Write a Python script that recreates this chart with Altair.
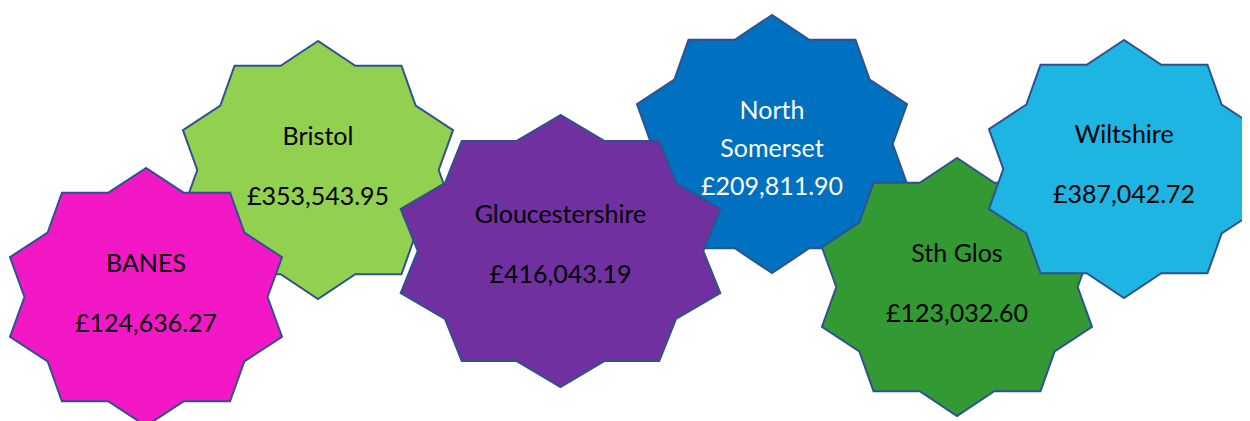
import math
import altair as alt
import pandas as pd

# ---- data ----
names = ["Bristol", "BANES", "North Somerset", "Gloucestershire", "Sth Glos", "Wiltshire"]
amounts = [353543.95, 124636.27, 209811.90, 416043.19, 123032.60, 387042.72]
fills = ["#92D050", "#F218C5", "#0070C0", "#7030A0", "#339933", "#1FB5E2"]
text_colors = ["black", "black", "white", "black", "black", "black"]
label_lines = [["Bristol"], ["BANES"], ["North", "Somerset"], ["Gloucestershire"], ["Sth Glos"], ["Wiltshire"]]

# ---- layout (reference pixel space) ----
center_x = [318, 146, 772, 560.5, 957, 1124]
center_y = [170, 297, 144, 251, 287, 169]
radius_x = [142, 143, 142, 168, 142, 142]
radius_y = [129, 129, 129, 136, 129, 129]
text_shift = [0, 0, 0, -3, 0, -1]

INNER = 0.85


def star_path(aspect):
    pts = []
    for k in range(20):
        ang = math.radians(90 + 18 * k)
        r = 1.0 if k % 2 == 0 else INNER
        pts.append((r * math.cos(ang), -r * math.sin(ang) * aspect))
    return "M" + " L".join(f"{x:.4f},{y:.4f}" for x, y in pts) + " Z"


paths = [star_path(ry / rx) for rx, ry in zip(radius_x, radius_y)]

stars = pd.DataFrame({
    "name": names,
    "x": center_x,
    "y": center_y,
    "sz": [(2 * rx) ** 2 for rx in radius_x],
    "z": list(range(len(names))),
})

rows = []
for i, n in enumerate(names):
    lines = label_lines[i] + [f"£{amounts[i]:,.2f}"]
    if len(lines) == 2:
        offs = [-25, 35]
    else:
        offs = [-25, 13, 51]
    for ln, off in zip(lines, offs):
        rows.append({"t": ln, "x": center_x[i], "y": center_y[i] + off + text_shift[i],
                     "tc": text_colors[i]})
labels = pd.DataFrame(rows)

W, H = 1234, 413
xs = alt.Scale(domain=[8, 8 + W])
ys = alt.Scale(domain=[8 + H, 8])

star_layer = alt.Chart(stars).mark_point(
    filled=True, opacity=1, stroke="#2F528F", strokeWidth=2
).encode(
    x=alt.X("x:Q", scale=xs, axis=None),
    y=alt.Y("y:Q", scale=ys, axis=None),
    shape=alt.Shape("name:N", scale=alt.Scale(domain=names, range=paths), legend=None),
    color=alt.Color("name:N", scale=alt.Scale(domain=names, range=fills), legend=None),
    size=alt.Size("sz:Q", scale=None),
    order=alt.Order("z:Q"),
)

text_layer = alt.Chart(labels).mark_text(
    font="Lato", fontSize=25, align="center", baseline="alphabetic"
).encode(
    x=alt.X("x:Q", scale=xs, axis=None),
    y=alt.Y("y:Q", scale=ys, axis=None),
    text="t:N",
    color=alt.Color("tc:N", scale=None),
)

chart = alt.layer(star_layer, text_layer).properties(
    width=W, height=H, autosize=alt.AutoSizeParams(type="none"), padding=0,
    background="white",
).configure_view(stroke=None)

chart.save("out.html", embed_options={"renderer": "svg", "actions": False})
